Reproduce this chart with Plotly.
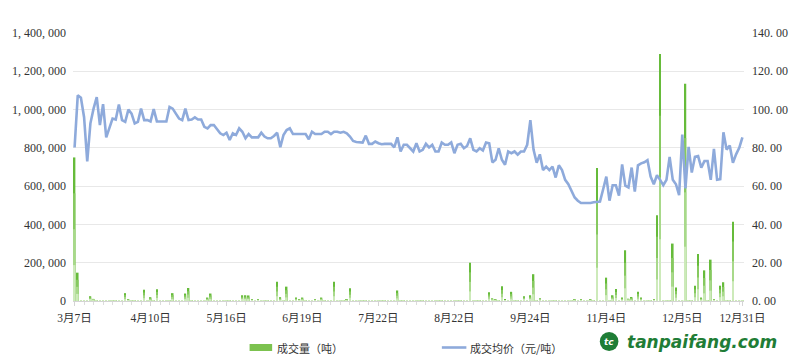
import plotly.graph_objects as go

# ---- data ----
x_labels = ["3月7日", "4月10日", "5月16日", "6月19日", "7月22日", "8月22日",
            "9月24日", "11月4日", "12月5日", "12月31日"]
x_label_pos = [0, 24, 48, 72, 96, 120, 144, 168, 192, 211]

volume = [
    750000, 148000, 3000, 5000, 2000, 25000, 11000, 3000, 2000, 3000,
    2000, 3000, 2000, 3000, 2000, 3000, 41000, 9000, 2000, 3000,
    2000, 3000, 59000, 2000, 20000, 5000, 62000, 3000, 2000, 3000,
    2000, 41000, 3000, 2000, 3000, 39000, 68000, 3000, 2000, 3000,
    2000, 3000, 18000, 39000, 3000, 2000, 3000, 2000, 3000, 2000,
    3000, 2000, 3000, 30000, 30000, 29000, 9000, 3000, 9000, 2000,
    3000, 2000, 3000, 2000, 100000, 20000, 4000, 75000, 3000, 3000,
    18000, 9000, 18000, 3000, 2000, 3000, 9000, 4000, 18000, 5000,
    4000, 3000, 100000, 3000, 2000, 3000, 9000, 66000, 3000, 2000,
    3000, 2000, 3000, 2000, 3000, 2000, 3000, 2000, 3000, 2000,
    3000, 2000, 55000, 3000, 2000, 4000, 3000, 2000, 3000, 4000,
    2000, 3000, 2000, 3000, 2000, 3000, 2000, 3000, 2000, 3000,
    2000, 3000, 2000, 3000, 2000, 200000, 3000, 2000, 3000, 4000,
    3000, 46000, 14000, 9000, 3000, 77000, 7000, 3000, 48000, 4000,
    3000, 2000, 25000, 3000, 30000, 140000, 3000, 14000, 2000, 3000,
    2000, 3000, 2000, 3000, 2000, 3000, 2000, 3000, 9000, 3000,
    9000, 2000, 4000, 9000, 3000, 695000, 3000, 2000, 122000, 3000,
    30000, 63000, 3000, 18000, 265000, 12000, 21000, 3000, 48000, 18000,
    3000, 2000, 3000, 9000, 448000, 1290000, 3000, 2000, 3000, 300000,
    70000, 3000, 3000, 1135000, 3000, 3000, 80000, 245000, 18000, 160000,
    3000, 216000, 9000, 3000, 80000, 98000, 3000, 3000, 414000, 3000,
    4000, 3000,
]

price = [
    80.2, 107.4, 106.2, 96, 72.9, 92.8, 100.5, 106.5, 91.9, 102.8,
    85.5, 90.2, 95.3, 94.8, 102.6, 94.5, 93.6, 100, 97.9, 92.8,
    93.6, 100.5, 94.5, 94.5, 93.8, 100.2, 93.8, 93.8, 93.8, 93.8,
    101.4, 100.5, 97.9, 95.3, 94.5, 100.5, 94.5, 94.8, 95.9, 94.8,
    94.8, 91, 90.2, 91.9, 91.9, 89.7, 87.6, 86.7, 87.9, 84.1,
    87.6, 86.7, 90.2, 88.4, 85, 87.2, 85.5, 85.5, 85.5, 87.9,
    85.9, 85, 85, 86.2, 87.9, 80.3, 86.7, 89.3, 90.2, 87.2,
    87.2, 87.2, 87.2, 87.2, 84.5, 88.4, 87.2, 87.2, 87.2, 88.4,
    88.4, 87.2, 88.4, 88.4, 87.9, 88.4, 87.6, 85.9, 83.6, 83.1,
    82.8, 82.8, 86.4, 82.1, 82.1, 83.3, 82.4, 81.9, 82.1, 82.1,
    82.1, 80.2, 85.5, 78.1, 81.6, 81.6, 79.8, 78.1, 82.4, 78.1,
    79, 82.1, 80.2, 81.6, 78.1, 78.1, 82.8, 81.6, 81.6, 82.8,
    77.2, 81.6, 82.1, 79.8, 81, 85, 79, 78.1, 79.8, 78.6,
    82.8, 82.4, 72.4, 73.8, 79.8, 73.8, 71.2, 78.1, 77.2, 78.1,
    76.4, 78.1, 78.1, 81.6, 94.5, 79.1, 72.2, 76.6, 68.4, 70.2,
    68.4, 70.2, 64.5, 70.9, 68.4, 63.3, 61, 57.6, 54.1, 52.4,
    51.2, 51.2, 51.2, 51.2, 51.6, 51.9, 51.9, 58.4, 65, 52.4,
    60.5, 60.5, 55, 71.4, 60.2, 59.3, 69.7, 57.1, 70.9, 71.9,
    72.5, 73.6, 65, 61, 65.7, 63.3, 60.5, 63.3, 75.3, 63.3,
    61, 55.3, 86.9, 58.8, 80.5, 67.1, 75.3, 75.7, 69.7, 73.1,
    73.1, 63.3, 79.5, 63.3, 63.6, 88.1, 79.1, 81.2, 72.2, 76.6,
    80, 85.5,
]

left_ticks = [0, 200000, 400000, 600000, 800000, 1000000, 1200000, 1400000]
left_labels = ["0", "200, 000", "400, 000", "600, 000", "800, 000",
               "1, 000, 000", "1, 200, 000", "1, 400, 000"]
right_ticks = [0, 20, 40, 60, 80, 100, 120, 140]
right_labels = ["0. 00", "20. 00", "40. 00", "60. 00", "80. 00",
                "100. 00", "120. 00", "140. 00"]

legend_names = ["成交量（吨）", "成交均价（元/吨）"]

assert len(volume) == len(price) == 212
idx = list(range(len(volume)))

# ---- figure ----
L, R, T, B = 68, 48, 33, 59
PW, PH = 800 - L - R, 360 - T - B

def px(xp):
    return (xp - L) / PW

def py(yp):
    return (360 - B - yp) / PH

NUM_FONT = "Liberation Serif, Noto Sans CJK SC, serif"

fig = go.Figure()
# bars drawn as overlaid layers to imitate the vertical green gradient
bar_layers = [(1.0, "#66bb3a"), (0.75, "#86c95f"), (0.5, "#a8d98a"), (0.25, "#cdeaba")]
for frac, col in bar_layers:
    fig.add_trace(go.Bar(
        x=idx, y=[v * frac for v in volume], yaxis="y", width=0.5,
        marker=dict(color=col, line=dict(width=0)),
        showlegend=False, hoverinfo="skip",
    ))
fig.add_trace(go.Scatter(
    x=idx, y=price, yaxis="y2", mode="lines",
    line=dict(color="#8eaadb", width=2.6),
    showlegend=False, hoverinfo="skip",
))

fig.update_layout(
    width=800, height=360,
    margin=dict(l=L, r=R, t=T, b=B, pad=0),
    paper_bgcolor="white", plot_bgcolor="white",
    barmode="overlay",
    xaxis=dict(
        range=[-0.5, len(idx) - 0.5],
        tickmode="array", tickvals=x_label_pos, ticktext=x_labels,
        showgrid=False, zeroline=False,
        showline=True, linecolor="#d4d4d4", linewidth=1,
        ticks="outside", ticklen=4, tickcolor="#d4d4d4",
        minor=dict(tickmode="linear", tick0=0, dtick=3, ticks="outside",
                   ticklen=3, tickcolor="#dcdcdc"),
        tickfont=dict(family=NUM_FONT, size=11.5, color="#333333"),
        ticklabelstandoff=2,
    ),
    yaxis=dict(
        range=[0, 1400000],
        tickmode="array", tickvals=left_ticks, ticktext=left_labels,
        showgrid=True, gridcolor="#e8e8e8", gridwidth=1,
        zeroline=False, showline=False, ticks="",
        tickfont=dict(family=NUM_FONT, size=12, color="#333333"),
        ticklabelstandoff=6,
    ),
    yaxis2=dict(
        range=[0, 140], overlaying="y", side="right",
        tickmode="array", tickvals=right_ticks, ticktext=right_labels,
        showgrid=False, zeroline=False, showline=False, ticks="",
        tickfont=dict(family=NUM_FONT, size=12, color="#333333"),
        ticklabelstandoff=7,
    ),
)

# ---- custom legend ----
shapes = [
    dict(type="rect", xref="paper", yref="paper",
         x0=px(248), x1=px(271), y0=py(351), y1=py(344),
         fillcolor="#7cc24f", line=dict(width=0)),
    dict(type="line", xref="paper", yref="paper",
         x0=px(444), x1=px(469), y0=py(347.5), y1=py(347.5),
         line=dict(color="#8eaadb", width=2.6)),
    dict(type="circle", xref="paper", yref="paper",
         x0=px(605), x1=px(624), y0=py(351), y1=py(332),
         fillcolor="#1f7d36", line=dict(width=0)),
]
annotations = [
    dict(xref="paper", yref="paper", x=px(274), y=py(347.5),
         xanchor="left", yanchor="middle", showarrow=False,
         text=legend_names[0],
         font=dict(family="Noto Sans CJK SC", size=11, color="#333333")),
    dict(xref="paper", yref="paper", x=px(471), y=py(347.5),
         xanchor="left", yanchor="middle", showarrow=False,
         text=legend_names[1],
         font=dict(family="Noto Sans CJK SC", size=11, color="#333333")),
    dict(xref="paper", yref="paper", x=px(614.5), y=py(341.5),
         xanchor="center", yanchor="middle", showarrow=False,
         text="<b><i>tc</i></b>",
         font=dict(family="DejaVu Sans", size=9, color="white")),
    dict(xref="paper", yref="paper", x=px(631), y=py(342),
         xanchor="left", yanchor="middle", showarrow=False,
         text="<b><i>tanpaifang.com</i></b>",
         font=dict(family="DejaVu Sans", size=17, color="#1f7d36")),
]
fig.update_layout(shapes=shapes, annotations=annotations)

fig.write_html("out.html")
